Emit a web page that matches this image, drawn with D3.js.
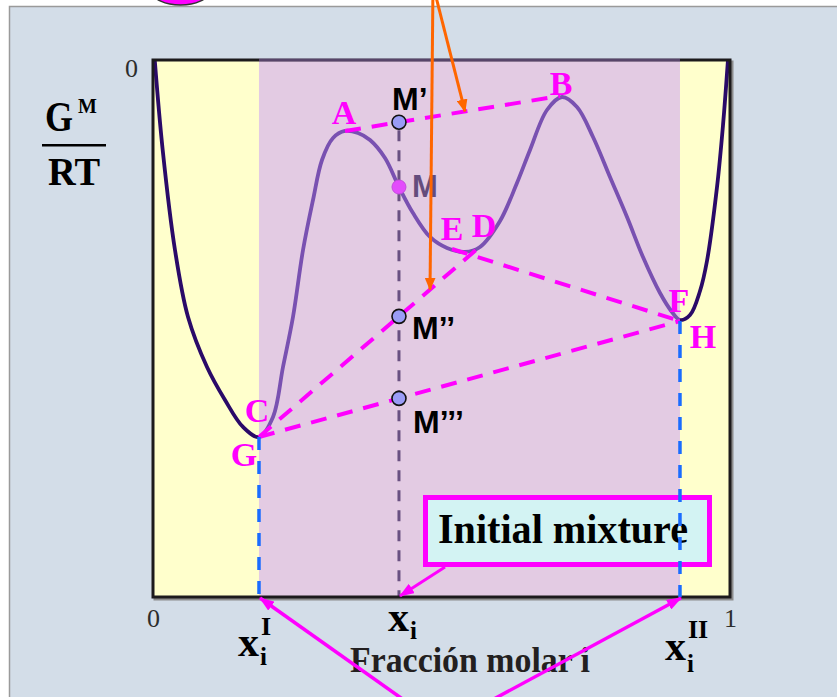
<!DOCTYPE html>
<html>
<head>
<meta charset="utf-8">
<script src="https://cdn.jsdelivr.net/npm/d3@7"></script>
<style>
  html, body { margin: 0; padding: 0; background: #fff; }
  svg { display: block; }
</style>
</head>
<body>
<svg id="chart" width="837" height="697"></svg>
<script>
// Mole fraction of component i and reduced Gibbs energy of mixing G^M/RT along the curve
const curveX = [0.003, 0.0168, 0.0381, 0.0607, 0.0936, 0.1248, 0.1560, 0.1837, 0.2080, 0.2253,
  0.2426, 0.2600, 0.2773, 0.2929, 0.3120, 0.3328, 0.3553, 0.3761, 0.4021, 0.4263, 0.4506,
  0.4801, 0.5095, 0.5407, 0.5667, 0.6014, 0.6308, 0.6534, 0.6828, 0.7088, 0.7348, 0.7626,
  0.7920, 0.8215, 0.8492, 0.8787, 0.8995, 0.9133, 0.9307, 0.9480, 0.9601, 0.9775, 0.9879, 0.9965];
const curveG = [0, -0.1676, -0.3538, -0.4786, -0.5717, -0.6331, -0.6834, -0.7020, -0.6648, -0.5717,
  -0.4786, -0.3538, -0.2607, -0.1862, -0.1453, -0.1322, -0.1359, -0.1490, -0.1825, -0.2365, -0.2849,
  -0.3296, -0.3501, -0.3575, -0.3482, -0.2998, -0.2291, -0.1676, -0.0931, -0.0689, -0.0875, -0.1434,
  -0.2179, -0.2924, -0.3669, -0.4339, -0.4693, -0.4842, -0.4749, -0.4302, -0.3743, -0.2365, -0.1210, 0];

// Tangent / tie-line end points
const pointNames = ["A", "B", "C", "D", "E", "F", "G", "H"];
const pointX = [0.3328, 0.7054, 0.1837, 0.5598, 0.5182, 0.9133, 0.1837, 0.9133];
const pointG = [-0.1322, -0.0670, -0.7020, -0.3538, -0.3520, -0.4860, -0.7020, -0.4860];
const tieLines = [["A", "B"], ["C", "D"], ["E", "F"], ["G", "H"]];

// Initial mixture and resulting phase compositions
const xInitial = 0.4263;
const gInitial = -0.2365;
const xPhaseI = 0.1837;
const xPhaseII = 0.9133;

// Mixture states lying on the tie lines A-B, C-D and G-H
const mixNames = ["M’", "M’’", "M’’’"];
const mixTie = [0, 1, 3];

// Orange pointers end on tie lines C-D and A-B at these compositions
const pointerX = [0.4801, 0.5407];
const pointerTie = [1, 0];

const xTicks = [0, 1];
const yTicks = [0];

const W = 837, H = 697;
const SERIF = "'Liberation Serif', 'Times New Roman', serif";
const SANS = "'Liberation Sans', Arial, sans-serif";
const MAGENTA = "#ff00ff";

const x = d3.scaleLinear().domain([0, 1]).range([153, 730]);
const y = d3.scaleLinear().domain([-1, 0]).range([597, 60]);

const svg = d3.select("#chart");
const defs = svg.append("defs");

function marker(id, color, len, wid) {
  defs.append("marker")
    .attr("id", id)
    .attr("viewBox", `0 0 ${len} ${wid}`)
    .attr("refX", len - 1).attr("refY", wid / 2)
    .attr("markerUnits", "userSpaceOnUse")
    .attr("markerWidth", len).attr("markerHeight", wid)
    .attr("orient", "auto")
    .append("path")
    .attr("d", `M0,0L${len},${wid / 2}L0,${wid}Z`)
    .attr("fill", color);
}
marker("arrowMag", MAGENTA, 15, 11);
marker("arrowOrange", "#ff6600", 13, 11);

const P = {};
pointNames.forEach((n, i) => { P[n] = [pointX[i], pointG[i]]; });
function gOnTie(t, xv) {
  const a = P[tieLines[t][0]], b = P[tieLines[t][1]];
  return a[1] + (xv - a[0]) / (b[0] - a[0]) * (b[1] - a[1]);
}

// Page and panel background
svg.append("rect").attr("width", W).attr("height", H).attr("fill", "#ffffff");
svg.append("rect").attr("x", 9.5).attr("y", 6.5).attr("width", W).attr("height", H)
  .attr("fill", "#d3dde8").attr("stroke", "#9a9a9a").attr("stroke-width", 1.5);

// Magenta marker peeking in from above
svg.append("ellipse").attr("cx", 180.5).attr("cy", -8).attr("rx", 28).attr("ry", 13)
  .attr("fill", MAGENTA).attr("stroke", "#333").attr("stroke-width", 1.5);

// Plot area
const [x0, x1] = x.range();
const [yb, yt] = y.range();
svg.append("rect").attr("x", x0 + 2).attr("y", yt + 2).attr("width", x1 - x0).attr("height", yb - yt)
  .attr("fill", "none").attr("stroke", "#8c8c8c").attr("stroke-width", 3);
svg.append("rect").attr("x", x0).attr("y", yt).attr("width", x1 - x0).attr("height", yb - yt)
  .attr("fill", "#ffffcc");

// Gibbs energy of mixing curve
const line = d3.line().x(d => x(d[0])).y(d => y(d[1])).curve(d3.curveCatmullRom.alpha(0.5));
svg.append("path").datum(d3.zip(curveX, curveG)).attr("d", line)
  .attr("fill", "none").attr("stroke", "#2a0a68").attr("stroke-width", 3.8)
  .attr("stroke-linejoin", "round");

// Vertical at the initial composition, from M' down to the axis
const gMp = gOnTie(0, xInitial);
svg.append("line").attr("x1", x(xInitial)).attr("x2", x(xInitial))
  .attr("y1", y(gMp) + 8).attr("y2", yb)
  .attr("stroke", "#0a0a0a").attr("stroke-width", 3).attr("stroke-dasharray", "11,9");

// Initial mixture point M on the curve
svg.append("circle").attr("cx", x(xInitial)).attr("cy", y(gInitial)).attr("r", 7)
  .attr("fill", MAGENTA).attr("stroke", "#c000c0").attr("stroke-width", 1);
svg.append("text").attr("x", x(xInitial) + 13).attr("y", y(gInitial) + 10)
  .attr("font-family", SANS).attr("font-weight", "bold").attr("font-size", 31)
  .attr("fill", "#000").text("M");

// Two-phase region shading
svg.append("rect").attr("x", x(xPhaseI)).attr("y", yt).attr("width", x(xPhaseII) - x(xPhaseI))
  .attr("height", yb - yt).attr("fill", "rgb(199,151,250)").attr("fill-opacity", 0.5);

// Frame
svg.append("rect").attr("x", x0).attr("y", yt).attr("width", x1 - x0).attr("height", yb - yt)
  .attr("fill", "none").attr("stroke", "#1c1a1c").attr("stroke-width", 3);
svg.append("rect").attr("x", x(xPhaseI)).attr("y", yt - 1.5).attr("width", x(xPhaseII) - x(xPhaseI))
  .attr("height", 3).attr("fill", "rgb(199,151,250)").attr("fill-opacity", 0.35);

// Tie lines
svg.append("g").selectAll("line").data(tieLines).join("line")
  .attr("x1", d => x(P[d[0]][0])).attr("y1", d => y(P[d[0]][1]))
  .attr("x2", d => x(P[d[1]][0])).attr("y2", d => y(P[d[1]][1]))
  .attr("stroke", MAGENTA).attr("stroke-width", 4).attr("stroke-dasharray", "16,11");

// Mixture states on the tie lines
const mixPts = mixNames.map((n, i) => ({ name: n, x: xInitial, g: gOnTie(mixTie[i], xInitial) }));
svg.append("g").selectAll("circle").data(mixPts).join("circle")
  .attr("cx", d => x(d.x)).attr("cy", d => y(d.g)).attr("r", 7)
  .attr("fill", "#9a9cf6").attr("stroke", "#111").attr("stroke-width", 1.6);
const mixOffset = [[-7, -12], [13, 23], [14, 35]];
svg.append("g").selectAll("text").data(mixPts).join("text")
  .attr("x", (d, i) => x(d.x) + mixOffset[i][0]).attr("y", (d, i) => y(d.g) + mixOffset[i][1])
  .attr("font-family", SANS).attr("font-weight", "bold").attr("font-size", 32)
  .attr("fill", "#000").text(d => d.name);

// Point letters
const labelOffset = { A: [-1, -7], B: [1, -1], C: [-2, -15], D: [8, -13], E: [0, -9], F: [-1, -9], G: [-15, 29], H: [23, 27] };
svg.append("g").selectAll("text").data(pointNames).join("text")
  .attr("x", d => x(P[d][0]) + labelOffset[d][0]).attr("y", d => y(P[d][1]) + labelOffset[d][1])
  .attr("text-anchor", "middle")
  .attr("font-family", SERIF).attr("font-weight", "bold").attr("font-size", 34)
  .attr("fill", MAGENTA).text(d => d);

// Initial mixture callout
const box = svg.append("g");
box.append("rect").attr("x", 425.5).attr("y", 497.5).attr("width", 284).attr("height", 67)
  .attr("fill", "#d3f3f3").attr("stroke", MAGENTA).attr("stroke-width", 5);
box.append("text").attr("x", 563).attr("y", 543).attr("text-anchor", "middle")
  .attr("font-family", SERIF).attr("font-weight", "bold").attr("font-size", 42)
  .attr("textLength", 250).attr("lengthAdjust", "spacingAndGlyphs")
  .attr("fill", "#000").text("Initial mixture");

// Phase compositions
[[xPhaseI, P.G[1]], [xPhaseII, P.H[1]]].forEach(([xv, gv]) => {
  svg.append("line").attr("x1", x(xv)).attr("x2", x(xv)).attr("y1", y(gv)).attr("y2", yb)
    .attr("stroke", "#1a6cff").attr("stroke-width", 3.5).attr("stroke-dasharray", "13,11");
});

// Arrow from the callout to the initial composition
svg.append("line").attr("x1", 445).attr("y1", 567).attr("x2", x(xInitial) + 1).attr("y2", yb - 1)
  .attr("stroke", MAGENTA).attr("stroke-width", 3).attr("marker-end", "url(#arrowMag)");

// Orange pointers onto the tie lines
pointerX.forEach((xv, i) => {
  svg.append("line").attr("x1", 433).attr("y1", -15).attr("x2", x(xv)).attr("y2", y(gOnTie(pointerTie[i], xv)))
    .attr("stroke", "#ff6600").attr("stroke-width", 3).attr("marker-end", "url(#arrowOrange)");
});

// Axes: only the end values are labelled
const xAxis = svg.append("g").attr("transform", `translate(0,${yb})`)
  .call(d3.axisBottom(x).tickValues(xTicks).tickSize(0).tickPadding(12).tickFormat(d3.format("d")));
xAxis.select(".domain").remove();
xAxis.selectAll("text").attr("font-family", SERIF).attr("font-size", 26).attr("fill", "#2d2d2d");

const yAxis = svg.append("g").attr("transform", `translate(${x0},0)`)
  .call(d3.axisLeft(y).tickValues(yTicks).tickSize(0).tickPadding(15).tickFormat(d3.format("d")));
yAxis.select(".domain").remove();
yAxis.selectAll("text").attr("font-family", SERIF).attr("font-size", 26).attr("fill", "#2d2d2d")
  .attr("dy", "0.62em");

// Composition labels on the x axis
function compLabel(cx, base, sub, sup, subDy, supDy) {
  const g = svg.append("g").attr("font-family", SERIF).attr("font-weight", "bold").attr("fill", "#000");
  g.append("text").attr("x", cx).attr("y", base).attr("font-size", 42).text("x");
  g.append("text").attr("x", cx + 22).attr("y", base + subDy).attr("font-size", 25).text(sub);
  if (sup) g.append("text").attr("x", cx + 23).attr("y", base + supDy).attr("font-size", 26).text(sup);
}
compLabel(x(xPhaseI) - 21, 656, "i", "I", 9, -21);
compLabel(x(xInitial) - 11, 631, "i", null, 8, 0);
compLabel(x(xPhaseII) - 15, 660, "i", "II", 12, -22);

svg.append("text").attr("x", 470).attr("y", 672).attr("text-anchor", "middle")
  .attr("font-family", SERIF).attr("font-weight", "bold").attr("font-size", 35)
  .attr("textLength", 240).attr("lengthAdjust", "spacingAndGlyphs")
  .attr("fill", "#231f20").text("Fracción molar i");

// Arrows from below to the two phase compositions
[xPhaseI, xPhaseII].forEach(xv => {
  svg.append("line").attr("x1", 442).attr("y1", 727).attr("x2", x(xv) + 1).attr("y2", yb + 1)
    .attr("stroke", MAGENTA).attr("stroke-width", 3.5).attr("marker-end", "url(#arrowMag)");
});

// y-axis title G^M / RT
const yt1 = svg.append("g").attr("font-family", SERIF).attr("font-weight", "bold").attr("fill", "#000");
yt1.append("text").attr("x", 45).attr("y", 131).attr("font-size", 42)
  .attr("textLength", 28).attr("lengthAdjust", "spacingAndGlyphs").text("G");
yt1.append("text").attr("x", 78).attr("y", 113).attr("font-size", 20).text("M");
yt1.append("rect").attr("x", 42).attr("y", 144).attr("width", 64).attr("height", 2.5);
yt1.append("text").attr("x", 74).attr("y", 185).attr("text-anchor", "middle").attr("font-size", 40)
  .attr("textLength", 52).attr("lengthAdjust", "spacingAndGlyphs").text("RT");
</script>
</body>
</html>
